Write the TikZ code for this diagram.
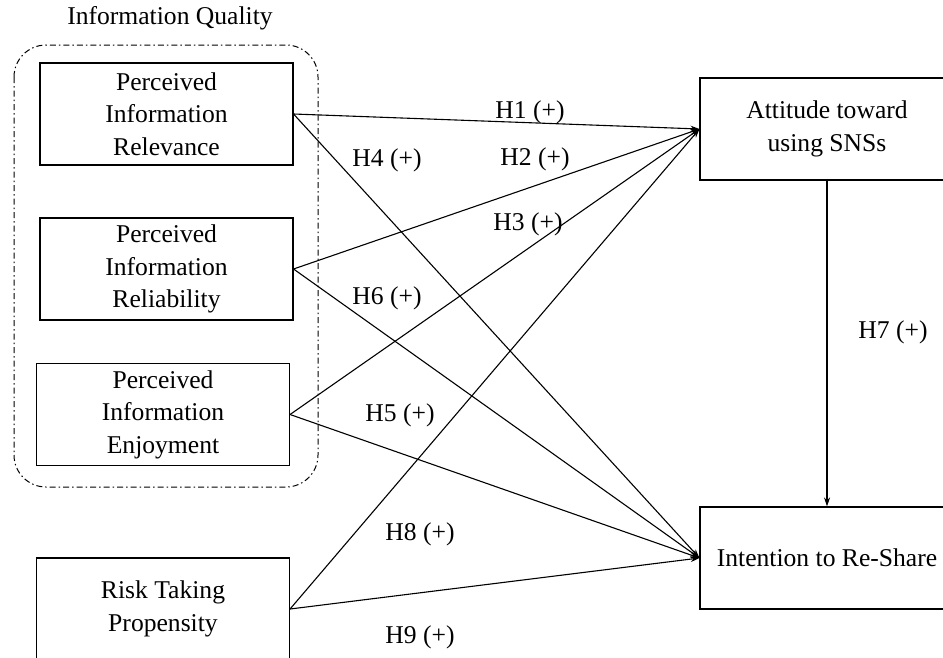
\documentclass[tikz,border=0pt]{standalone}
\usepackage{fontspec}
\setmainfont{Liberation Serif}
\usetikzlibrary{arrows.meta}
\begin{document}
\begin{tikzpicture}[x=1pt,y=-1pt,
  every node/.style={font=\fontsize{25.6}{32.5}\selectfont},
  varbox/.style={draw, line width=1.1pt, minimum width=253pt, minimum height=102pt, align=center, inner sep=0pt},
  link/.style={line width=1.1pt, -{Stealth[length=9pt,width=6pt]}},
  hlabel/.style={inner sep=0pt},
  group/.style={line width=1pt, rounded corners=32pt, dash pattern=on 6pt off 3pt on 1.5pt off 3pt}]
\useasboundingbox (0,0) rectangle (943,657);
\node[hlabel] (iq) at (170,18) {Information Quality};
\draw[group] (14,45) rectangle (318,487);
\node[varbox] (rel) at (166.5,114) {Perceived\\Information\\Relevance};
\node[varbox] (reli) at (166.5,269) {Perceived\\Information\\Reliability};
\node[varbox] (enj) at (163,414.5) {Perceived\\Information\\Enjoyment};
\node[varbox] (risk) at (163,609) {Risk Taking\\Propensity};
\node[varbox, minimum width=254pt] (att) at (827,129) {Attitude toward\\using SNSs};
\node[varbox, minimum width=254pt] (int) at (827,558) {Intention to Re-Share};
\draw[link] (rel.east) -- (att.west);
\draw[link] (reli.east) -- (att.west);
\draw[link] (enj.east) -- (att.west);
\draw[link] (risk.east) -- (att.west);
\draw[link] (rel.east) -- (int.west);
\draw[link] (reli.east) -- (int.west);
\draw[link] (enj.east) -- (int.west);
\draw[link] (risk.east) -- (int.west);
\draw[link] (att.south) -- (int.north);
\node[hlabel] (h1) at (530,112) {H1 (+)};
\node[hlabel] (h4) at (387,160) {H4 (+)};
\node[hlabel] (h2) at (535,159) {H2 (+)};
\node[hlabel] (h3) at (528,224) {H3 (+)};
\node[hlabel] (h6) at (387,298) {H6 (+)};
\node[hlabel] (h5) at (400,415) {H5 (+)};
\node[hlabel] (h8) at (420,534) {H8 (+)};
\node[hlabel] (h9) at (420,637) {H9 (+)};
\node[hlabel] (h7) at (893,332) {H7 (+)};
\end{tikzpicture}
\end{document}
